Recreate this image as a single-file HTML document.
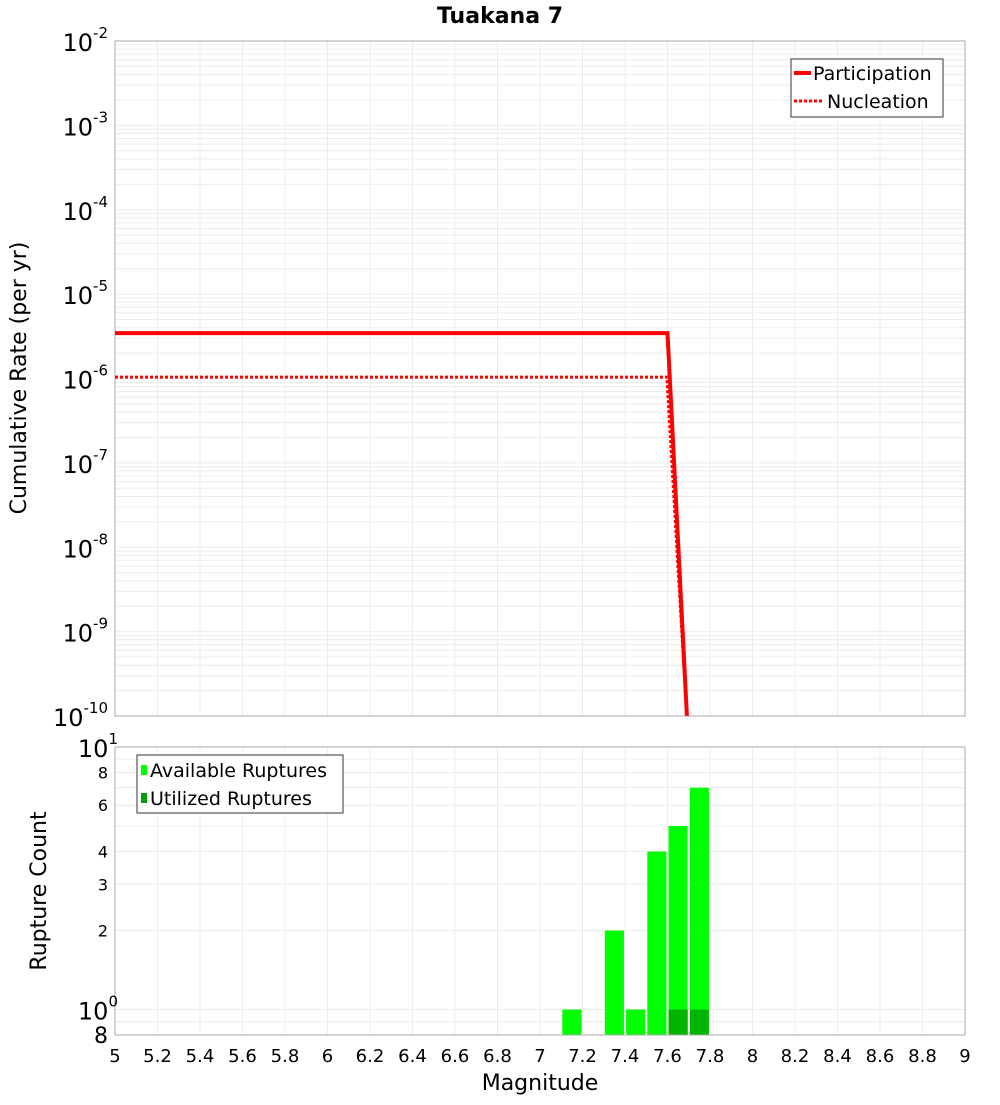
<!DOCTYPE html>
<html><head><meta charset="utf-8"><style>
body{margin:0;background:#fff;font-family:"Liberation Sans","DejaVu Sans",sans-serif;}
svg text{font-family:"DejaVu Sans","Liberation Sans",sans-serif;}
</style></head><body>
<svg id="chart" width="1000" height="1100" xmlns="http://www.w3.org/2000/svg">
<rect width="1000" height="1100" fill="#fff"/>
<text x="500" y="23" text-anchor="middle" font-size="22" font-weight="bold">Tuakana 7</text>
<g id="gtop"></g><g id="gbot"></g>
<text transform="translate(26,378) rotate(-90)" text-anchor="middle" font-size="22">Cumulative Rate (per yr)</text>
<text transform="translate(46,891) rotate(-90)" text-anchor="middle" font-size="22">Rupture Count</text>
<text x="540" y="1090" text-anchor="middle" font-size="22">Magnitude</text>
</svg>
<script>
const partMags=[5.0,7.6,7.7];
const partRates=[3.45e-6,3.45e-6,3.7e-11];
const nuclMags=[5.0,7.597,7.7];
const nuclRates=[1.04e-6,1.04e-6,4.0e-11];
const binCenters=[7.15,7.35,7.45,7.55,7.65,7.75];
const availCounts=[1,2,1,4,5,7];
const utilCounts=[0,0,0,0,1,1];
const xTicks=[5,5.2,5.4,5.6,5.8,6,6.2,6.4,6.6,6.8,7,7.2,7.4,7.6,7.8,8,8.2,8.4,8.6,8.8,9];
const topExps=[-2,-3,-4,-5,-6,-7,-8,-9,-10];
const botTicks=[8,6,4,3,2];

const NS="http://www.w3.org/2000/svg";
const L=115,R=965,T1=41,B1=716,T2=747,B2=1035;
const X=m=>L+(m-5)/(9-5)*(R-L);
const Y1=v=>T1+(-2-Math.log10(v))/8*(B1-T1);
const Y2=v=>T2+(1-Math.log10(v))/(1-Math.log10(0.8))*(B2-T2);
function el(p,tag,a,txt){const e=document.createElementNS(NS,tag);for(const k in a)e.setAttribute(k,a[k]);if(txt!=null)e.textContent=txt;p.appendChild(e);return e;}
const gTop=document.getElementById('gtop'),gBot=document.getElementById('gbot');
const defs=el(gTop,'defs',{});
const cp=el(defs,'clipPath',{id:'c1'});el(cp,'rect',{x:L,y:T1,width:R-L,height:B1-T1});
for(let e=-10;e<-2;e++)for(let k=1;k<10;k++){const y=Y1(k*Math.pow(10,e));
 const g=el(gTop,'line',{x1:L,x2:R,y1:y,y2:y,stroke:'#ececec','stroke-width':1});
 
 }
xTicks.forEach(m=>{[[T1,B1,gTop],[T2,B2,gBot]].forEach(([a,b,p])=>{const g=el(p,'line',{x1:X(m),x2:X(m),y1:a,y2:b,stroke:'#ececec','stroke-width':1});
 
 });});
topExps.forEach(e=>{const y=Y1(Math.pow(10,e));
 const t=el(gTop,'text',{x:108,y:y+10,'text-anchor':'end','font-size':24});
 
 
 el(t,'tspan',{},'10');el(t,'tspan',{dy:-13,'font-size':15},String(e));});
el(gTop,'rect',{x:L,y:T1,width:R-L,height:B1-T1,fill:'none',stroke:'#aaa',});
function pts(ms,vs){return ms.map((m,i)=>X(m)+','+Y1(vs[i])).join(' ');}
const pl=el(gTop,'polyline',{points:pts(partMags,partRates),fill:'none',stroke:'#f00','stroke-width':4,'clip-path':'url(#c1)'});


const nl=el(gTop,'polyline',{points:pts(nuclMags,nuclRates),fill:'none',stroke:'#f00','stroke-width':3,'stroke-dasharray':'3,2','clip-path':'url(#c1)'});


const lg=el(gTop,'g',{});
el(lg,'rect',{x:791,y:59,width:152,height:58,fill:'#fff',stroke:'#333'});
el(lg,'line',{x1:794,x2:811,y1:73,y2:73,stroke:'#f00','stroke-width':4});
el(lg,'text',{x:813,y:80,'font-size':19,},'Participation');
el(lg,'line',{x1:794,x2:822,y1:101,y2:101,stroke:'#f00','stroke-width':3,'stroke-dasharray':'3,2'});
el(lg,'text',{x:827,y:108,'font-size':19,},'Nucleation');
[0.8,0.9,1,2,3,4,5,6,7,8,9,10].forEach(v=>{const y=Y2(v);
 const g=el(gBot,'line',{x1:L,x2:R,y1:y,y2:y,stroke:'#ececec'});
 
 });
binCenters.forEach((c,i)=>{const x=X(c-0.045),w=X(c+0.045)-X(c-0.045);
 if(availCounts[i]>0){const y=Y2(availCounts[i]);const r=el(gBot,'rect',{x:x,y:y,width:w,height:B2-y,fill:'#00ff00'});
  
  }
 if(utilCounts[i]>0){const y=Y2(utilCounts[i]);const r=el(gBot,'rect',{x:x,y:y,width:w,height:B2-y,fill:'#00b400'});
  
  }});
el(gBot,'rect',{x:L,y:T2,width:R-L,height:B2-T2,fill:'none',stroke:'#aaa',});
[[10,'1'],[1,'0']].forEach(([v,e])=>{const t=el(gBot,'text',{x:118,y:Y2(v)+10,'text-anchor':'end','font-size':24});
 
 
 el(t,'tspan',{},'10');el(t,'tspan',{dy:-13,'font-size':15},e);});
botTicks.forEach(v=>{const t=el(gBot,'text',{x:108,y:Y2(v)+6,'text-anchor':'end','font-size':16},String(v));
 
 });
const t8=el(gBot,'text',{x:108,y:1043,'text-anchor':'end','font-size':22},'8');


xTicks.forEach(m=>{const t=el(gBot,'text',{x:X(m),y:1062,'text-anchor':'middle','font-size':18},String(m));
 
 });
const lb=el(gBot,'g',{});
el(lb,'rect',{x:137,y:755,width:206,height:58,fill:'#fff',stroke:'#333'});
el(lb,'rect',{x:141,y:765,width:6,height:10,fill:'#00ff00'});
el(lb,'text',{x:150,y:777,'font-size':19,},'Available Ruptures');
el(lb,'rect',{x:141,y:793,width:6,height:10,fill:'#00a000'});
el(lb,'text',{x:150,y:805,'font-size':19,},'Utilized Ruptures');
</script>
</body></html>
